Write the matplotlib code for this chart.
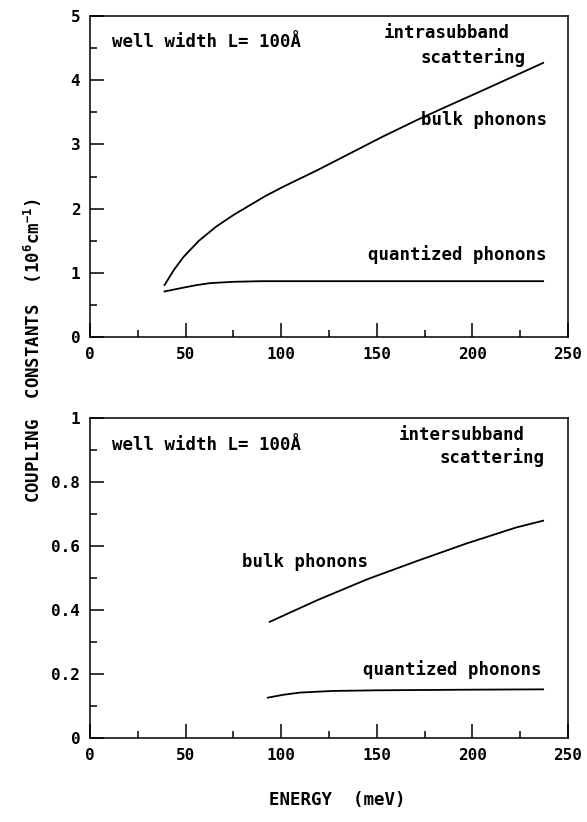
import numpy as np
import matplotlib.pyplot as plt
from matplotlib.ticker import MultipleLocator, FuncFormatter

plt.rcParams['font.family'] = 'DejaVu Sans Mono'
plt.rcParams['font.weight'] = 'bold'
plt.rcParams['mathtext.default'] = 'regular'

# intrasubband scattering (upper panel), coupling constant in 10^6 cm^-1
intra_bulk_energy = [39, 44, 49, 57, 66, 75, 84, 92, 101, 119, 136, 153, 171, 188, 206, 223, 237]
intra_bulk_value = [0.81, 1.05, 1.25, 1.50, 1.72, 1.90, 2.06, 2.20, 2.34, 2.60, 2.86, 3.12,
                    3.38, 3.61, 3.85, 4.08, 4.27]
intra_quant_energy = [39, 44, 49, 56, 63, 75, 90, 150, 200, 237]
intra_quant_value = [0.71, 0.74, 0.77, 0.81, 0.84, 0.86, 0.87, 0.87, 0.87, 0.87]

# intersubband scattering (lower panel)
inter_bulk_energy = [94, 119, 145, 171, 197, 223, 237]
inter_bulk_value = [0.363, 0.431, 0.496, 0.553, 0.608, 0.658, 0.679]
inter_quant_energy = [93, 101, 110, 127, 150, 200, 237]
inter_quant_value = [0.126, 0.135, 0.142, 0.147, 0.149, 0.151, 0.152]

fig = plt.figure(figsize=(5.87, 8.22), dpi=100)
ax1 = fig.add_axes([0.1533, 0.590, 0.8143, 0.3905])
ax2 = fig.add_axes([0.1533, 0.1022, 0.8143, 0.3893])

def style_axes(ax, ymax, ymajor, yminor):
    ax.set_xlim(0, 250)
    ax.set_ylim(0, ymax)
    ax.xaxis.set_major_locator(MultipleLocator(50))
    ax.xaxis.set_minor_locator(MultipleLocator(25))
    ax.yaxis.set_major_locator(MultipleLocator(ymajor))
    ax.yaxis.set_minor_locator(MultipleLocator(yminor))
    ax.tick_params(which='both', direction='in', top=False, right=False,
                   width=1.1, labelsize=11.5)
    ax.tick_params(which='major', length=10)
    ax.tick_params(which='minor', length=5)
    ax.tick_params(axis='y', pad=7)
    ax.tick_params(axis='x', pad=7)
    for s in ax.spines.values():
        s.set_linewidth(1.1)

fmt = FuncFormatter(lambda v, p: '0' if abs(v) < 1e-9 else ('%g' % v))

style_axes(ax1, 5, 1, 0.5)
ax1.plot(intra_bulk_energy, intra_bulk_value, color='black', lw=1.3)
ax1.plot(intra_quant_energy, intra_quant_value, color='black', lw=1.3)
ax1.yaxis.set_major_formatter(fmt)

style_axes(ax2, 1, 0.2, 0.1)
ax2.plot(inter_bulk_energy, inter_bulk_value, color='black', lw=1.3)
ax2.plot(inter_quant_energy, inter_quant_value, color='black', lw=1.3)
ax2.yaxis.set_major_formatter(fmt)

kw = dict(fontsize=12.5, fontweight='bold', va='center')
ax1.text(11.5, 4.595, 'well width L= 100Å', ha='left', **kw)
ax1.text(186.7, 4.74, 'intrasubband', ha='center', **kw)
ax1.text(200.3, 4.35, 'scattering', ha='center', **kw)
ax1.text(239, 3.38, 'bulk phonons', ha='right', **kw)
ax1.text(239, 1.28, 'quantized phonons', ha='right', **kw)

ax2.text(11.5, 0.916, 'well width L= 100Å', ha='left', **kw)
ax2.text(194.3, 0.947, 'intersubband', ha='center', **kw)
ax2.text(210.5, 0.875, 'scattering', ha='center', **kw)
ax2.text(79.5, 0.55, 'bulk phonons', ha='left', **kw)
ax2.text(236.4, 0.2125, 'quantized phonons', ha='right', **kw)

fig.text(0.056, 0.573, 'COUPLING  CONSTANTS  (10$^{6}$cm$^{-1}$)',
         rotation=90, ha='center', va='center', fontsize=12.5, fontweight='bold')
fig.text(0.574, 0.027, 'ENERGY  (meV)', ha='center', va='center',
         fontsize=12.5, fontweight='bold')

fig.savefig('out.png', dpi=100)
